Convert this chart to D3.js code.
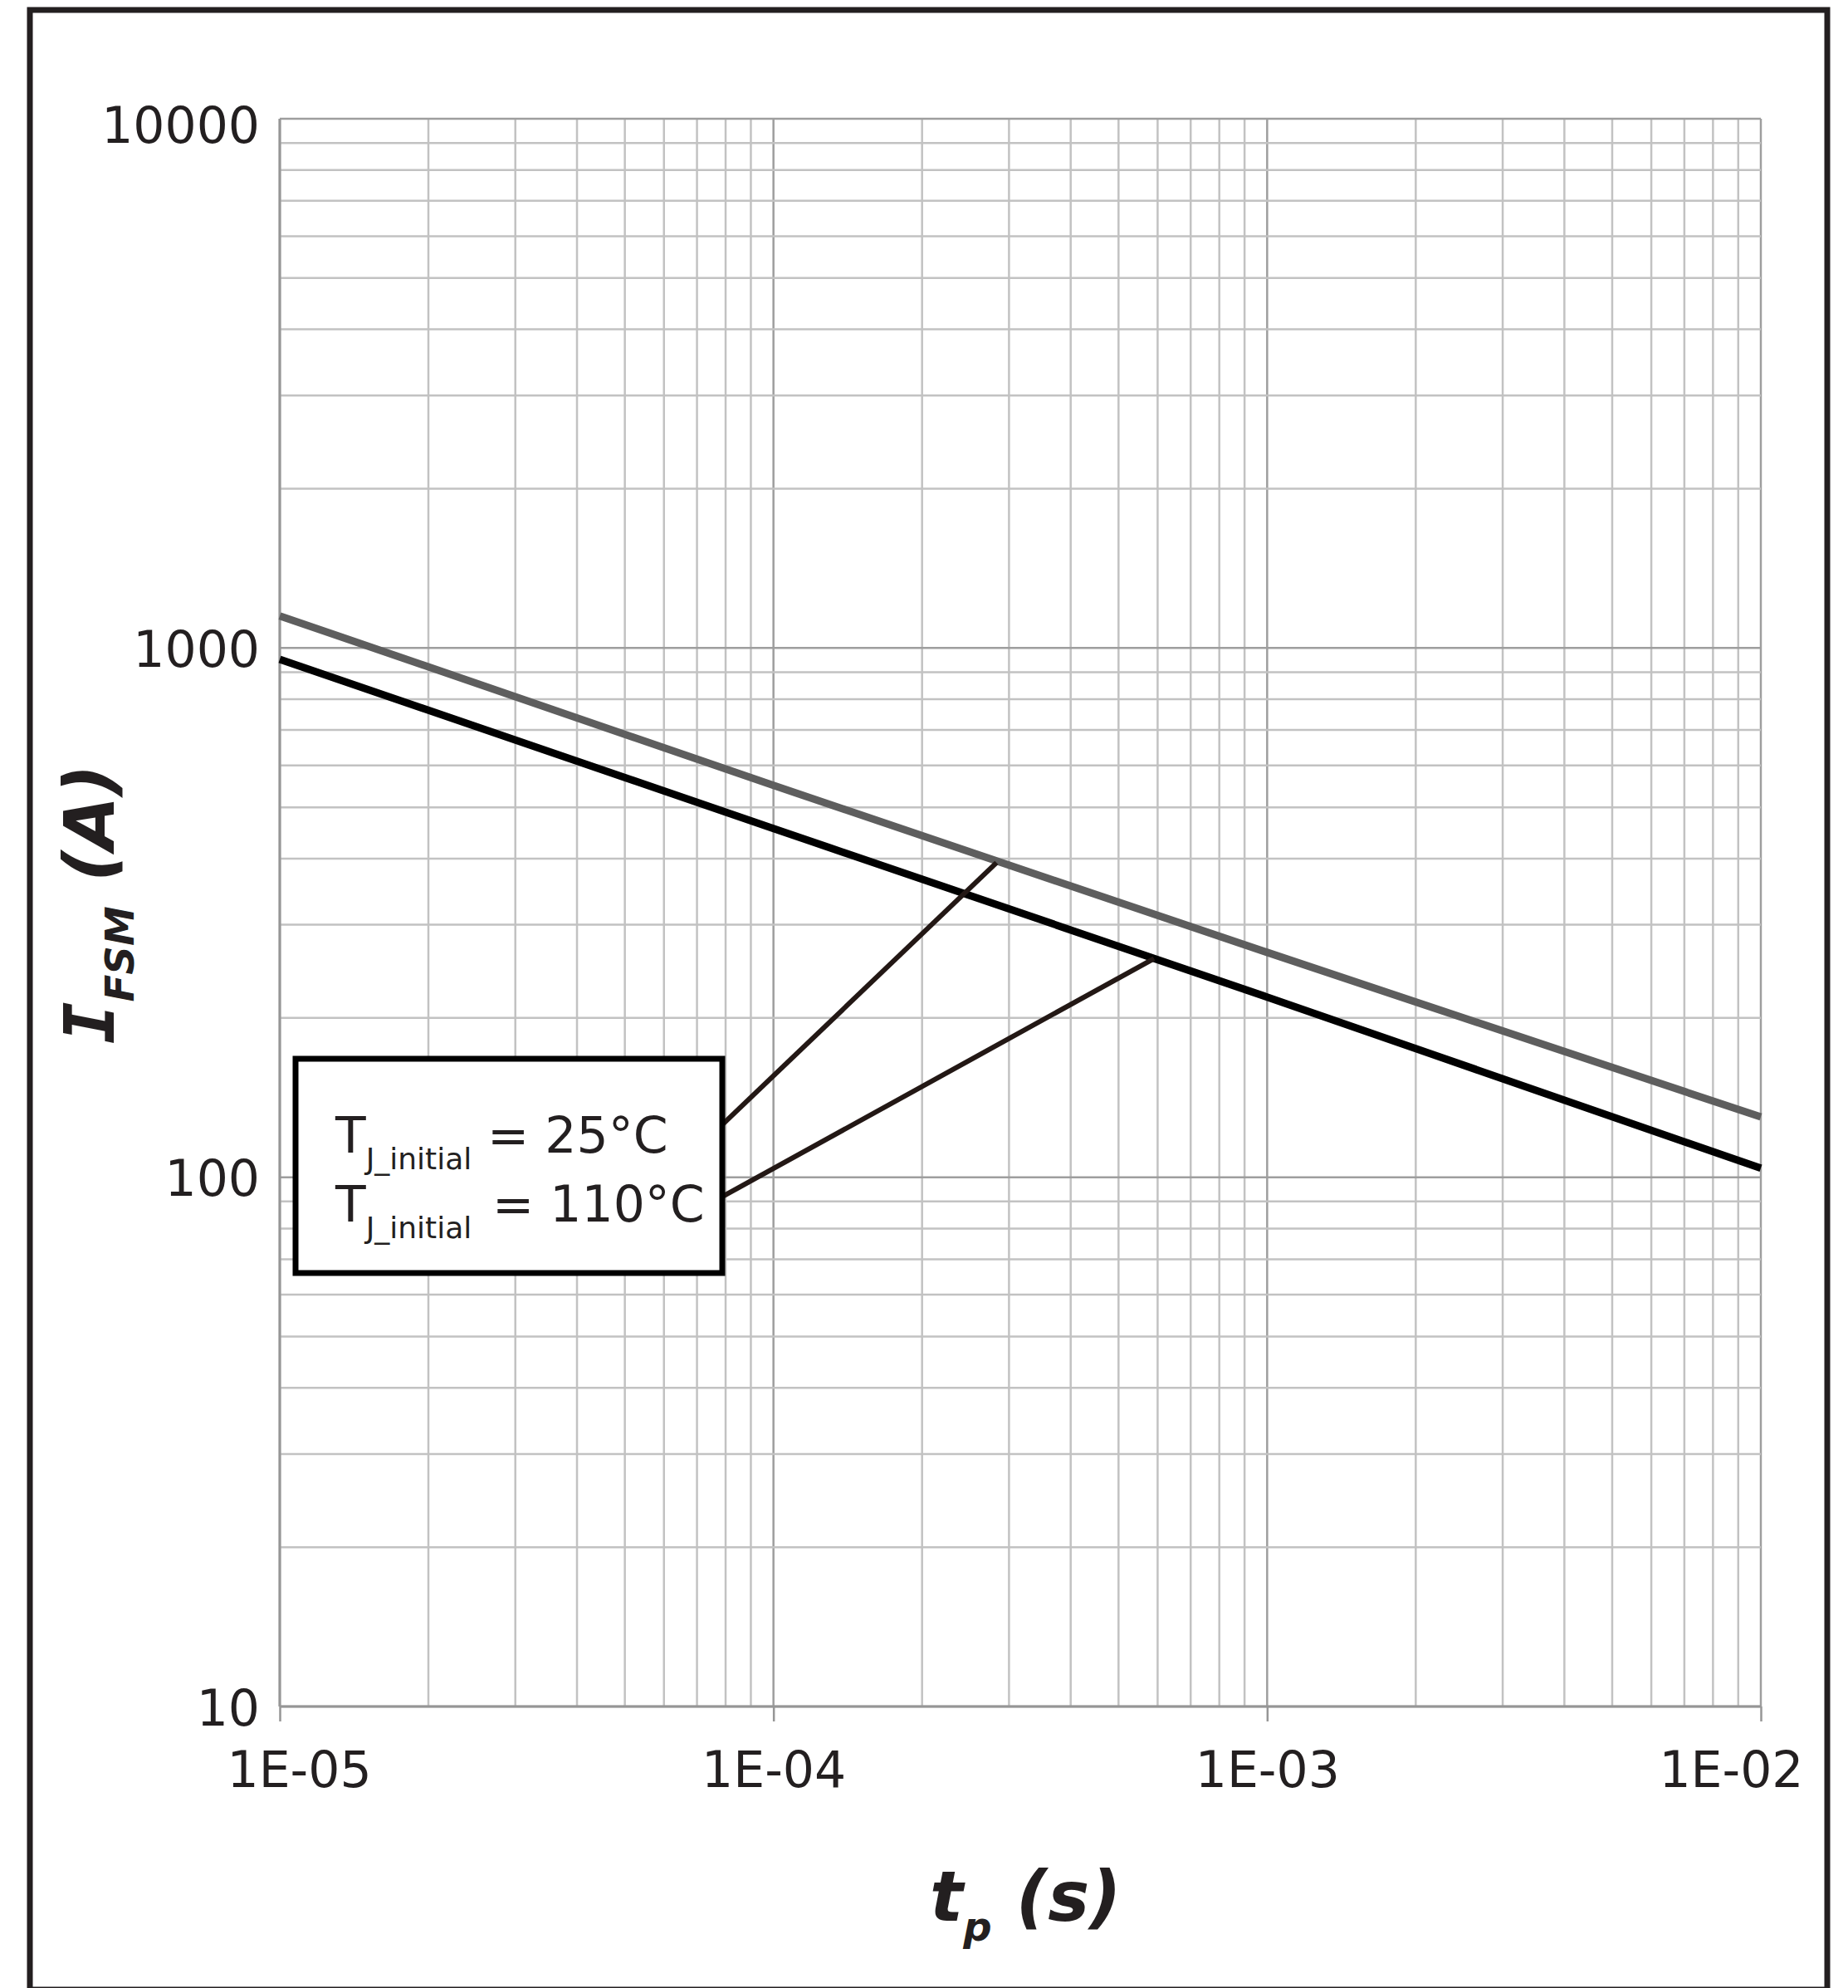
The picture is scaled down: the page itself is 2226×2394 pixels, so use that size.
<!DOCTYPE html>
<html>
<head>
  <meta charset="utf-8">
  <script src="https://cdnjs.cloudflare.com/ajax/libs/d3/7.8.5/d3.min.js"></script>
  <style>
    body { margin: 0; background: #fff; }
    text { font-family: "DejaVu Sans", Verdana, sans-serif; fill: #231f20; }
  </style>
</head>
<body>
  <script>
    // pulse width (s) and surge current (A)
    var tp = [1e-5, 1e-4, 1e-3, 1e-2];
    var ifsm25 = [1150, 550, 266, 130];
    var ifsm110 = [952, 456, 219, 104];

    // leader lines from the legend box to each curve
    var leader25 = [[7.9e-5, 126], [2.83e-4, 393]];
    var leader110 = [[7.9e-5, 92], [5.9e-4, 259]];

    var xTicks = [1e-5, 1e-4, 1e-3, 1e-2];
    var xTickLabels = ["1E-05", "1E-04", "1E-03", "1E-02"];
    var yTicks = [10, 100, 1000, 10000];
    var yTickLabels = ["10", "100", "1000", "10000"];

    var legendLabels = ["25\u00B0C", "110\u00B0C"];

    var W = 2226, H = 2394;
    var plotLeft = 337, plotRight = 2121, plotTop = 143, plotBottom = 2055;

    var svg = d3.select("body").append("svg")
      .attr("width", W)
      .attr("height", H);

    svg.append("rect")
      .attr("width", W).attr("height", H)
      .attr("fill", "#fff");

    var x = d3.scaleLog().domain([1e-5, 1e-2]).range([plotLeft, plotRight]);
    var y = d3.scaleLog().domain([10, 10000]).range([plotBottom, plotTop]);

    function isMajor(v) {
      var l = Math.log10(v);
      return Math.abs(l - Math.round(l)) < 1e-6;
    }

    // grid
    var grid = svg.append("g");
    grid.selectAll("line.v")
      .data(x.ticks())
      .enter().append("line")
      .attr("class", "v")
      .attr("x1", function(d) { return x(d); })
      .attr("x2", function(d) { return x(d); })
      .attr("y1", plotTop)
      .attr("y2", plotBottom)
      .attr("stroke", function(d) { return isMajor(d) ? "#9e9e9e" : "#c2c2c2"; })
      .attr("stroke-width", 2.5);

    grid.selectAll("line.h")
      .data(y.ticks())
      .enter().append("line")
      .attr("class", "h")
      .attr("x1", plotLeft)
      .attr("x2", plotRight)
      .attr("y1", function(d) { return y(d); })
      .attr("y2", function(d) { return y(d); })
      .attr("stroke", function(d) { return isMajor(d) ? "#9e9e9e" : "#c2c2c2"; })
      .attr("stroke-width", 2.5);

    grid.append("line")
      .attr("x1", plotLeft).attr("x2", plotLeft)
      .attr("y1", plotTop).attr("y2", plotBottom)
      .attr("stroke", "#969696").attr("stroke-width", 3);
    grid.append("line")
      .attr("x1", plotLeft).attr("x2", plotRight)
      .attr("y1", plotBottom).attr("y2", plotBottom)
      .attr("stroke", "#969696").attr("stroke-width", 3);

    // x axis
    var xAxis = svg.append("g")
      .attr("transform", "translate(0," + plotBottom + ")")
      .call(d3.axisBottom(x)
        .tickValues(xTicks)
        .tickFormat(function(d, i) { return xTickLabels[i]; })
        .tickSize(18)
        .tickPadding(36));
    xAxis.select(".domain").remove();
    xAxis.selectAll(".tick line").attr("stroke", "#969696").attr("stroke-width", 2.5);
    xAxis.selectAll(".tick text")
      .style("font-size", "60px")
      .attr("fill", "#231f20")
      .attr("text-anchor", function(d, i) {
        return i === 0 ? "start" : (i === xTicks.length - 1 ? "end" : "middle");
      })
      .attr("x", function(d, i) {
        return i === 0 ? -64 : (i === xTicks.length - 1 ? 51 : 0);
      });

    // y axis
    var yAxis = svg.append("g")
      .attr("transform", "translate(" + plotLeft + ",0)")
      .call(d3.axisLeft(y)
        .tickValues(yTicks)
        .tickFormat(function(d, i) { return yTickLabels[i]; })
        .tickSize(0)
        .tickPadding(24));
    yAxis.select(".domain").remove();
    yAxis.selectAll(".tick text")
      .style("font-size", "60px")
      .attr("fill", "#231f20")
      .attr("dy", function(d) { return d === 10000 ? "0.48em" : "0.37em"; });

    // curves
    var line = d3.line()
      .x(function(d) { return x(d[0]); })
      .y(function(d) { return y(d[1]); });

    svg.append("path")
      .datum(d3.zip(tp, ifsm25))
      .attr("d", line)
      .attr("fill", "none")
      .attr("stroke", "#5e5e5e")
      .attr("stroke-width", 9);

    svg.append("path")
      .datum(d3.zip(tp, ifsm110))
      .attr("d", line)
      .attr("fill", "none")
      .attr("stroke", "#000")
      .attr("stroke-width", 9);

    [leader25, leader110].forEach(function(l) {
      svg.append("path")
        .datum(l)
        .attr("d", line)
        .attr("fill", "none")
        .attr("stroke", "#231815")
        .attr("stroke-width", 6);
    });

    // legend box
    var lg = svg.append("g");
    lg.append("rect")
      .attr("x", 356).attr("y", 1275)
      .attr("width", 514).attr("height", 258)
      .attr("fill", "#fff")
      .attr("stroke", "#000")
      .attr("stroke-width", 7);

    legendLabels.forEach(function(lab, i) {
      var by = 1388 + i * 83;
      var t = lg.append("text")
        .attr("x", 404).attr("y", by)
        .style("font-size", "60px");
      t.append("tspan").text("T");
      t.append("tspan")
        .attr("dy", 20)
        .style("font-size", "36px")
        .text("J_initial");
      lg.append("text")
        .attr("x", 587 + i * 6).attr("y", by)
        .style("font-size", "60px")
        .text("= " + lab);
    });

    // axis titles
    var xt = svg.append("text")
      .attr("x", 1120).attr("y", 2313)
      .style("font-size", "84px")
      .style("font-weight", "bold")
      .style("font-style", "italic");
    xt.append("tspan").text("t");
    xt.append("tspan").attr("dy", 24).style("font-size", "48px").text("p");
    xt.append("tspan").attr("dy", -24).text(" (s)");

    var yt = svg.append("text")
      .attr("transform", "translate(137,1257) rotate(-90)")
      .style("font-size", "84px")
      .style("font-weight", "bold")
      .style("font-style", "italic");
    // serifed I as in the reference
    yt.append("tspan").style("font-family", "'DejaVu Sans Mono', monospace").text("I");
    yt.append("tspan").attr("dy", 24).style("font-size", "48px").text("FSM");
    yt.append("tspan").attr("dy", -24).text(" (A)");

    // outer frame
    svg.append("rect")
      .attr("x", 36).attr("y", 12)
      .attr("width", 2165).attr("height", 2384)
      .attr("fill", "none")
      .attr("stroke", "#231f20")
      .attr("stroke-width", 7);
  </script>
</body>
</html>
